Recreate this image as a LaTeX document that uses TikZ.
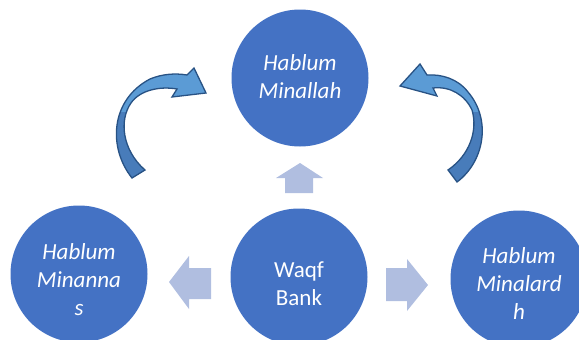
\documentclass[tikz,border=0pt]{standalone}
\usepackage{fontspec}
\setmainfont{Carlito}
\definecolor{cblue}{RGB}{68,114,196}
\definecolor{blockc}{RGB}{176,190,224}
\definecolor{curvelight}{RGB}{91,155,213}
\definecolor{curvedark}{RGB}{72,124,186}
\definecolor{curveline}{RGB}{40,82,132}
\begin{document}
\begin{tikzpicture}[x=1pt,y=-1pt,
  bubble/.style={circle, fill=cblue, minimum size=137pt, inner sep=0pt},
  txt/.style={text=white, align=center, inner sep=0pt, font=\fontsize{23}{28}\selectfont},
  itxt/.style={txt, font=\fontsize{23}{28}\selectfont\itshape},
  blockarrow/.style={fill=blockc},
  curvearrow/.style={draw=curveline, line width=1.3pt, line join=miter}]
\useasboundingbox (0,0) rectangle (579,340);
\clip (0,0) rectangle (579,340);

% circles
\node[bubble] (top) at (300,78) {};
\node[bubble] (left) at (79,274) {};
\node[bubble] (center) at (299,277) {};
\node[bubble] (right) at (519,279) {};

% texts
\node[itxt] (toptext) at (300,77) {Hablum\\Minallah};
\node[itxt] (lefttext) at (79,280) {Hablum\\Minanna\\s};
\node[txt] (centertext) at (299,284) {Waqf\\Bank};
\node[itxt] (righttext) at (519,284) {Hablum\\Minalard\\h};

% block arrows
\fill[blockarrow] (300,163) -- (323,178) -- (313,178) -- (313,193) -- (285,193) -- (285,178) -- (276,178) -- cycle;
\fill[blockarrow] (169,282) -- (189,256) -- (189,268) -- (211,268) -- (211,299) -- (189,299) -- (189,309) -- cycle;
\fill[blockarrow] (428,285) -- (407,259) -- (407,268) -- (386,268) -- (386,301) -- (407,301) -- (407,311) -- cycle;

% left curved arrow
\def\leftcurve{(132,178) .. controls (108,148) and (110,100) .. (150,79)
  .. controls (162,74) and (175,73) .. (187,75) -- (194,68) -- (206,93) -- (172,97) -- (177,89)
  .. controls (160,86) and (140,90) .. (131,103) .. controls (119,120) and (122,150) .. (145,170) -- cycle}
\fill[curvelight] \leftcurve;
\begin{scope}
  \clip (0,112) rectangle (300,340);
  \fill[curvedark] \leftcurve;
\end{scope}
\draw[curvearrow] \leftcurve;

% right curved arrow
\def\rightcurve{(457,182) .. controls (484,162) and (492,120) .. (468,92)
  .. controls (458,79) and (442,74) .. (427,75) -- (420,64) -- (400,86) -- (437,96) -- (433,88)
  .. controls (450,86) and (465,95) .. (472,110) .. controls (478,130) and (470,155) .. (448,170) -- cycle}
\fill[curvelight] \rightcurve;
\begin{scope}
  \clip (300,112) rectangle (579,340);
  \fill[curvedark] \rightcurve;
\end{scope}
\draw[curvearrow] \rightcurve;
\end{tikzpicture}
\end{document}
